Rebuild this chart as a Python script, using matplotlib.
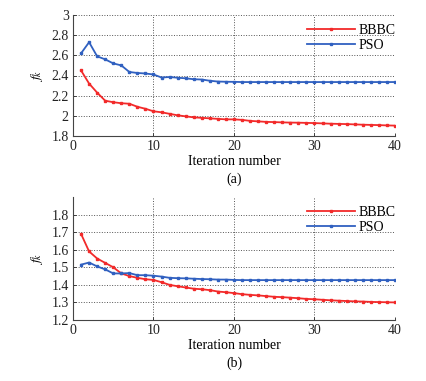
import matplotlib
matplotlib.use("Agg")
import matplotlib.pyplot as plt
import numpy as np

iters = list(range(1, 41))

bbbc_a = [2.45, 2.32, 2.23, 2.15, 2.135, 2.125, 2.12, 2.09, 2.07, 2.045,
          2.035, 2.02, 2.005, 1.995, 1.985, 1.98, 1.975, 1.97, 1.965, 1.965,
          1.96, 1.95, 1.945, 1.94, 1.938, 1.935, 1.933, 1.932, 1.93, 1.928,
          1.925, 1.922, 1.92, 1.918, 1.915, 1.912, 1.91, 1.908, 1.905, 1.903]
pso_a = [2.62, 2.73, 2.59, 2.56, 2.52, 2.50, 2.435, 2.425, 2.42, 2.41,
         2.38, 2.385, 2.378, 2.372, 2.363, 2.36, 2.348, 2.34, 2.338, 2.337,
         2.335, 2.335, 2.335, 2.335, 2.335, 2.335, 2.335, 2.335, 2.335, 2.335,
         2.335, 2.335, 2.335, 2.335, 2.335, 2.335, 2.335, 2.335, 2.335, 2.335]

bbbc_b = [1.69, 1.59, 1.55, 1.525, 1.50, 1.465, 1.45, 1.44, 1.432, 1.428,
          1.415, 1.40, 1.392, 1.385, 1.378, 1.375, 1.37, 1.362, 1.358, 1.353,
          1.347, 1.343, 1.34, 1.336, 1.332, 1.33, 1.327, 1.324, 1.32, 1.318,
          1.315, 1.312, 1.31, 1.308, 1.306, 1.305, 1.303, 1.302, 1.301, 1.30]
pso_b = [1.515, 1.527, 1.505, 1.488, 1.465, 1.465, 1.467, 1.455, 1.455, 1.452,
         1.447, 1.44, 1.438, 1.437, 1.435, 1.433, 1.432, 1.43, 1.43, 1.428,
         1.427, 1.427, 1.427, 1.427, 1.427, 1.427, 1.427, 1.427, 1.427, 1.427,
         1.427, 1.427, 1.427, 1.427, 1.427, 1.427, 1.427, 1.427, 1.427, 1.427]

plt.rcParams['font.family'] = ['Liberation Serif', 'DejaVu Serif']
plt.rcParams['mathtext.fontset'] = 'stix'
plt.rcParams['font.size'] = 10

W, H = 427, 381
fig = plt.figure(figsize=(W/100, H/100), dpi=100)

RED = '#f22a2a'
BLUE = '#3060c0'

def make_ax(top, bottom, bb, pso, ylim, yticks, ylabels, sub):
    l, r = 73, 395
    ax = fig.add_axes([l/W, 1 - bottom/H, (r-l)/W, (bottom-top)/H])
    ax.plot(iters, bb, color=RED, lw=1.3, marker='s', ms=1.8, label='BBBC')
    ax.plot(iters, pso, color=BLUE, lw=1.3, marker='s', ms=1.8, label='PSO')
    ax.set_xlim(0, 40)
    ax.set_ylim(*ylim)
    ax.set_xticks([0, 10, 20, 30, 40])
    ax.set_yticks(yticks)
    ax.set_yticklabels(ylabels)
    ax.grid(True, linestyle=':', color='#555555', lw=0.7)
    for s in ('top', 'right'):
        ax.spines[s].set_visible(False)
    for s in ('left', 'bottom'):
        ax.spines[s].set_color('#444444')
        ax.spines[s].set_linewidth(0.8)
    ax.tick_params(direction='in', length=2, width=0.6, labelsize=10,
                   colors='#222222', pad=3)
    ax.set_xlabel('Iteration number', labelpad=1)
    ax.set_ylabel('$f_k$', labelpad=5)
    ax.legend(loc='upper right', frameon=False, handlelength=3.5,
              handletextpad=0.25, borderaxespad=0.55, labelspacing=0.15,
              borderpad=0.1, bbox_to_anchor=(1.03, 1.0))
    ax.text(0.5, -0.30, sub, transform=ax.transAxes, ha='center', va='top')
    return ax

make_ax(15, 136, bbbc_a, pso_a, (1.8, 3.0),
        [1.8, 2.0, 2.2, 2.4, 2.6, 2.8, 3.0],
        ['1.8', '2', '2.2', '2.4', '2.6', '2.8', '3'], '(a)')
make_ax(197, 320, bbbc_b, pso_b, (1.2, 1.9),
        [1.2, 1.3, 1.4, 1.5, 1.6, 1.7, 1.8],
        ['1.2', '1.3', '1.4', '1.5', '1.6', '1.7', '1.8'], '(b)')

fig.savefig('out.png', dpi=100)
